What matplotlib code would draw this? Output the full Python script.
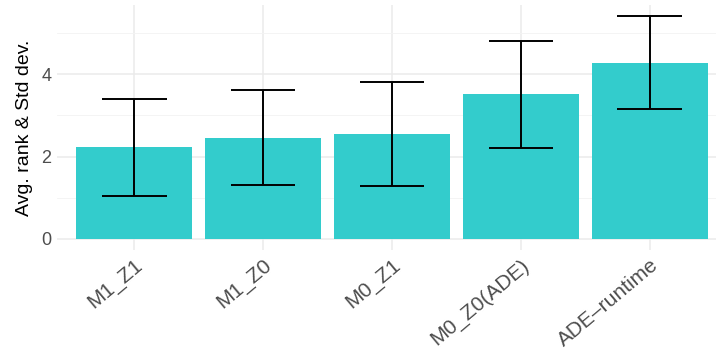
import numpy as np
import matplotlib.pyplot as plt
from matplotlib.ticker import MultipleLocator

plt.rcParams['font.family'] = ['Liberation Sans', 'DejaVu Sans']

methods = ['M1_Z1', 'M1_Z0', 'M0_Z1', 'M0_Z0(ADE)', 'ADE\u2013runtime']
avg_rank = [2.22, 2.46, 2.54, 3.51, 4.28]
std_dev = [1.17, 1.15, 1.26, 1.30, 1.13]

x = np.arange(len(methods))
lo = np.array(avg_rank) - np.array(std_dev)
hi = np.array(avg_rank) + np.array(std_dev)

fig = plt.figure(figsize=(7.16, 3.52), dpi=100)
ax = fig.add_axes([57 / 716, 1 - 250 / 352, 670 / 716, 245 / 352])

ax.bar(x, avg_rank, width=0.9, color='#33CCCC', zorder=2)
ax.vlines(x, lo, hi, color='black', lw=1.4, zorder=3)
ax.hlines(lo, x - 0.25, x + 0.25, color='black', lw=1.4, zorder=3)
ax.hlines(hi, x - 0.25, x + 0.25, color='black', lw=1.4, zorder=3)

ymax = hi.max()
ax.set_ylim(-0.05 * ymax, ymax * 1.05)
ax.set_xlim(-0.6, len(methods) - 0.4)

ax.yaxis.set_major_locator(MultipleLocator(2))
ax.yaxis.set_minor_locator(MultipleLocator(1))
ax.set_xticks(x)
ax.set_xticklabels(methods, rotation=40, ha='right', va='top',
                   rotation_mode='anchor')

ax.grid(True, which='major', color='#EBEBEB', lw=1.1, zorder=0)
ax.grid(True, which='minor', axis='y', color='#F3F3F3', lw=0.6, zorder=0)
ax.set_axisbelow(True)
for s in ax.spines.values():
    s.set_visible(False)
ax.tick_params(which='both', length=0, labelcolor='#4D4D4D')
ax.tick_params(axis='y', labelsize=13, pad=4)
ax.tick_params(axis='x', labelsize=15, pad=4)
ax.set_ylabel('Avg. rank & Std dev.', fontsize=14, color='black', labelpad=6)

fig.savefig('out.png', dpi=100)
